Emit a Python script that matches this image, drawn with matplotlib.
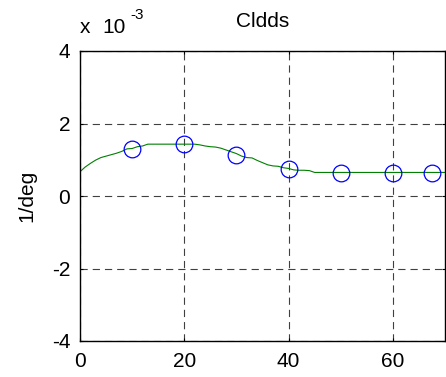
import matplotlib.pyplot as plt
from matplotlib.ticker import FuncFormatter

plt.rcParams['font.family'] = ['Liberation Sans', 'DejaVu Sans']

# curve (1/deg)
line_x = [0, 1, 2, 3, 4, 5, 6, 7, 8, 9, 10, 11, 12, 13, 14, 16, 18, 20, 22,
          23, 24, 25, 26, 27, 28, 29, 30, 31, 32, 33, 34, 35, 36, 37, 38, 39,
          40, 41, 42, 43, 44, 45, 50, 60, 70]
line_y = [0.67, 0.80, 0.90, 0.99, 1.06, 1.10, 1.14, 1.18, 1.23, 1.30, 1.31,
          1.36, 1.38, 1.43, 1.43, 1.43, 1.43, 1.43, 1.43, 1.41, 1.38, 1.36,
          1.35, 1.32, 1.27, 1.22, 1.17, 1.10, 1.06, 1.05, 0.98, 0.92, 0.86,
          0.83, 0.82, 0.78, 0.76, 0.72, 0.71, 0.71, 0.70, 0.65, 0.65, 0.65, 0.65]
line_y = [v * 1e-3 for v in line_y]

# circle markers
pts_x = [10, 20, 30, 40, 50, 60, 67.5]
pts_y = [1.31, 1.43, 1.13, 0.74, 0.63, 0.63, 0.63]
pts_y = [v * 1e-3 for v in pts_y]

fig = plt.figure(figsize=(4.46, 3.77), dpi=100)
ax = fig.add_axes([80 / 446, 1 - 341 / 377, 365 / 446, 290 / 377])

ax.plot(line_x, line_y, color='#008000', lw=0.8)
ax.plot(pts_x, pts_y, 'o', mfc='none', mec='#0000ff', ms=12, mew=0.9)

ax.set_xlim(0, 70)
ax.set_ylim(-4e-3, 4e-3)
ax.set_xticks([0, 20, 40, 60])
ax.set_yticks([-4e-3, -2e-3, 0, 2e-3, 4e-3])
ax.yaxis.set_major_formatter(FuncFormatter(lambda v, p: '%g' % round(v / 1e-3)))
ax.tick_params(direction='in', length=2.5, labelsize=15, width=0.8,
               top=True, right=True)
ax.tick_params(axis='y', pad=7)
ax.tick_params(axis='x', pad=8)
ax.grid(True, ls=(0, (6.5, 4.5)), color='#404040', lw=0.8)
for s in ax.spines.values():
    s.set_linewidth(1.0)

ax.set_ylabel('1/deg', fontsize=15, labelpad=11)
ax.set_title('Cldds', fontsize=15, pad=17)
# scale factor note, MATLAB style
fig.text(80 / 446, 1 - 33 / 377, 'x', fontsize=15, va='baseline')
fig.text(102 / 446, 1 - 33 / 377, '10', fontsize=15, va='baseline')
fig.text(130 / 446, 1 - 19 / 377, '-3', fontsize=11, va='baseline')

fig.savefig('out.png', dpi=100)
